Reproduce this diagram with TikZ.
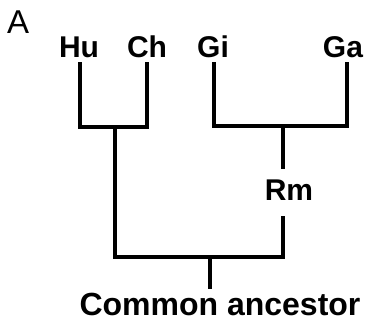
\documentclass[tikz,border=0pt]{standalone}
\usepackage{fontspec}
\setmainfont{Liberation Sans}
\begin{document}
\begin{tikzpicture}[x=1pt,y=-1pt,
  taxon/.style={font=\fontsize{30}{30}\selectfont\bfseries, inner sep=0pt, anchor=base},
  branch/.style={line width=4pt, line join=miter, black}]
\useasboundingbox (0,0) rectangle (369,322);
\node[anchor=base west, inner sep=0pt, font=\fontsize{33}{33}\selectfont] (panel) at (7,33) {A};
\node[taxon] (hu) at (79,57) {Hu};
\node[taxon] (ch) at (147,57) {Ch};
\node[taxon] (gi) at (213,57) {Gi};
\node[taxon] (ga) at (343,57) {Ga};
\node[taxon] (rm) at (289,200) {Rm};
\node[taxon, font=\fontsize{32}{32}\selectfont\bfseries] (ca) at (220,315) {Common ancestor};
\coordinate (j1) at (115,127);
\coordinate (j2) at (283,126);
\coordinate (j3) at (210,257);
\draw[branch] ([xshift=1pt,yshift=-5pt]hu.south) |- (j1) -| ([yshift=-5pt]ch.south);
\draw[branch] ([xshift=1pt,yshift=-5pt]gi.south) |- (j2) -| ([xshift=4pt,yshift=-5pt]ga.south);
\draw[branch] (j2) -- ([xshift=-6pt,yshift=10pt]rm.north);
\draw[branch] (j1) |- (j3) -| ([xshift=-6pt,yshift=-16pt]rm.south);
\draw[branch] (j3) -- ([xshift=-10pt,yshift=3pt]ca.north);
\end{tikzpicture}
\end{document}
